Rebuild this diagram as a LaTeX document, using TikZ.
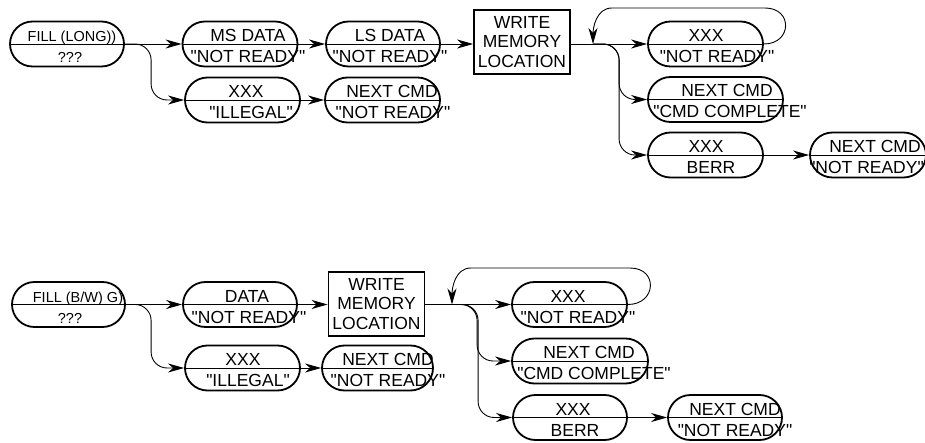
\documentclass[tikz,border=0pt]{standalone}
\usepackage{fontspec}
\setmainfont{Liberation Sans}[Ligatures=TeXOff]
\usetikzlibrary{shapes.misc, arrows.meta}

\tikzset{
  pill/.style={rounded rectangle, draw, line width=1.8pt, minimum height=45pt, inner sep=0pt,
    path picture={\draw[line width=0.8pt] (path picture bounding box.west) -- (path picture bounding box.east);}},
  tag/.style={anchor=base, inner sep=0pt, font=\fontsize{17.5}{19}\selectfont},
  memory/.style={draw, line width=1.8pt, minimum width=96pt, minimum height=64pt, align=center,
    inner sep=0pt, font=\fontsize{17.5}{19.5}\selectfont},
  flow/.style={-{Stealth[length=16pt,width=9pt,inset=5pt]}, line width=0.9pt},
  link/.style={line width=0.9pt}
}
\newcommand{\smalltag}{\fontsize{14.5}{16}\selectfont}
% name, centre, width, upper text, lower text, shift of upper, shift of lower
\newcommand{\statepill}[7]{%
  \node[pill, minimum width=#3pt] (#1) at (#2) {};
  \node[tag] (#1-top) at ([xshift=#6pt, yshift=2.5pt]#1.center) {#4};
  \node[tag] (#1-bot) at ([xshift=#7pt, yshift=-18.5pt]#1.center) {#5};
}

\begin{document}
\begin{tikzpicture}[x=1pt, y=-1pt]
\useasboundingbox (0,0) rectangle (925,443);

% long fill
\statepill{fill1}{67,44}{114}{\smalltag FILL (LONG))}{\smalltag ???}{5}{3}
\statepill{ms1}{240,44}{115}{MS DATA}{"NOT READY"}{8}{8}
\statepill{ls1}{383,44}{114}{LS DATA}{"NOT READY"}{7}{7}
\node[memory] (wr1) at (522,42) {WRITE\\MEMORY\\LOCATION};
\statepill{rn1}{705.5,44}{115}{XXX}{"NOT READY"}{0.5}{11.5}
\statepill{cc1}{715.5,99.5}{135}{NEXT CMD}{"CMD COMPLETE"}{11.5}{14.5}
\statepill{be1}{705.5,155}{115}{XXX}{BERR}{0.5}{5.5}
\statepill{nr1}{868,155}{116}{NEXT CMD}{"NOT READY"}{7}{-1.5}
\statepill{il1}{242.5,100}{115}{XXX}{"ILLEGAL"}{3.5}{8.5}
\statepill{nx1}{382.5,100}{115}{NEXT CMD}{"NOT READY"}{9.5}{10.5}
\coordinate (br1) at (593,44);
\coordinate (lp1) at (765,8);
\coordinate (lp2) at (612,8);

\draw[flow] (fill1.east) -- (ms1.west);
\draw[flow, rounded corners=16pt] (fill1.east) -| ([xshift=-33pt]il1.west) -- (il1.west);
\draw[flow] (ms1.east) -- (ls1.west);
\draw[flow] (ls1.east) -- (ls1.east -| wr1.west);
\draw[link] (br1 -| wr1.east) -- (br1);
\draw[flow] (br1) -- (rn1.west);
\draw[flow, rounded corners=16pt] (br1) -| ([xshift=-28pt]cc1.west) -- (cc1.west);
\draw[flow, rounded corners=16pt] (br1) -| ([xshift=-28pt]be1.west) -- (be1.west);
\draw[flow] (be1.east) -- (nr1.west);
\draw[flow] (il1.east) -- (nx1.west);
\draw[flow] (rn1.east) to[out=0, in=0, looseness=2] (lp1) -- (lp2) to[out=180, in=90] (br1);

% byte/word fill
\statepill{fill2}{68.5,304.5}{113}{\smalltag FILL (B/W) G)}{\smalltag ???}{9.5}{1.5}
\statepill{da2}{240,304.5}{114}{DATA}{"NOT READY"}{7}{9}
\node[memory] (wr2) at (376.5,304) {WRITE\\MEMORY\\LOCATION};
\statepill{rn2}{569.5,304.5}{115}{XXX}{"NOT READY"}{-1.5}{8.5}
\statepill{cc2}{580,361}{136}{NEXT CMD}{"CMD COMPLETE"}{9}{14}
\statepill{be2}{570,417.5}{114}{XXX}{BERR}{3}{5}
\statepill{nr2}{725,417.5}{114}{NEXT CMD}{"NOT READY"}{10}{10}
\statepill{il2}{242.5,368}{115}{XXX}{"ILLEGAL"}{0.5}{5.5}
\statepill{nx2}{377.5,368}{111}{NEXT CMD}{"NOT READY"}{10.5}{10.5}
\coordinate (br2) at (452,304.5);
\coordinate (lp3) at (630,268);
\coordinate (lp4) at (471,268);

\draw[flow] (fill2.east) -- (da2.west);
\draw[flow, rounded corners=16pt] (fill2.east) -| ([xshift=-33pt]il2.west) -- (il2.west);
\draw[flow] (da2.east) -- (da2.east -| wr2.west);
\draw[link] (br2 -| wr2.east) -- (br2);
\draw[flow] (br2) -- (rn2.west);
\draw[flow, rounded corners=16pt] (br2) -| ([xshift=-34pt]cc2.west) -- (cc2.west);
\draw[flow, rounded corners=16pt] (br2) -| ([xshift=-34pt]be2.west) -- (be2.west);
\draw[flow] (be2.east) -- (nr2.west);
\draw[flow] (il2.east) -- (nx2.west);
\draw[flow] (rn2.east) to[out=0, in=0, looseness=2] (lp3) -- (lp4) to[out=180, in=90] (br2);
\end{tikzpicture}
\end{document}
